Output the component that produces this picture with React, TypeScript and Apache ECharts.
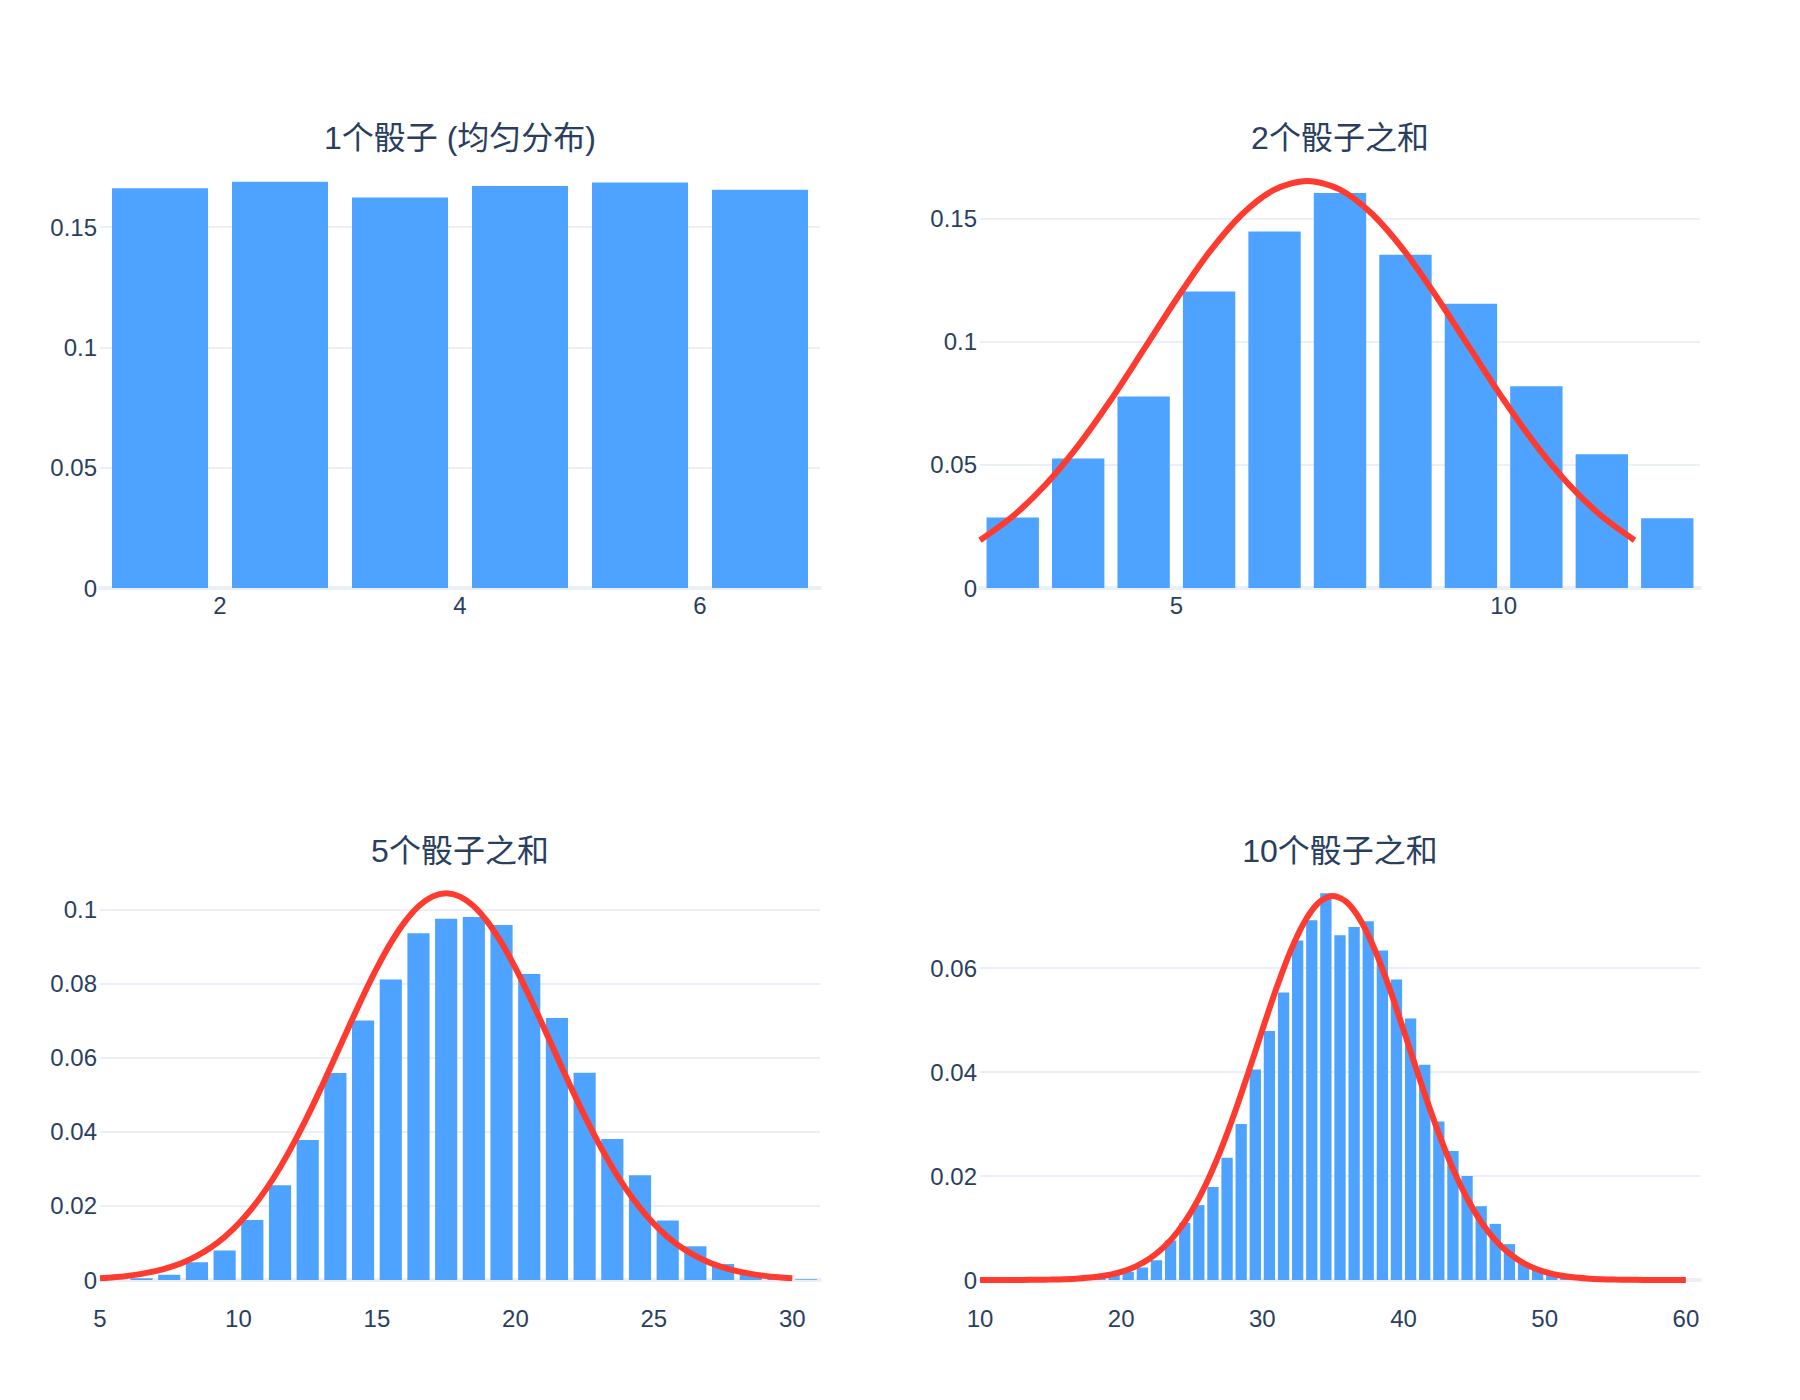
import React, { useEffect, useRef } from 'react';
import * as echarts from 'echarts';

// ---------- data ----------
const titles = ['1个骰子 (均匀分布)', '2个骰子之和', '5个骰子之和', '10个骰子之和'];

// histogram bins are [s, s+1)
const sums1 = [1, 2, 3, 4, 5, 6];
const prob1 = [0.1662, 0.1689, 0.1623, 0.1671, 0.1686, 0.1655];

const sums2 = [2, 3, 4, 5, 6, 7, 8, 9, 10, 11, 12];
const prob2 = [0.0286, 0.0526, 0.0777, 0.1203, 0.1447, 0.1603, 0.1353, 0.1154, 0.0819, 0.0543, 0.0283];
const curve2X = [2, 2.5, 3, 3.5, 4, 4.5, 5, 5.5, 6, 6.5, 7, 7.5, 8, 8.5, 9, 9.5, 10, 10.5, 11, 11.5, 12];
const curve2Y = [0.0194, 0.0291, 0.0419, 0.0578, 0.0764, 0.0967, 0.1172, 0.1362, 0.1516, 0.1617, 0.1652,
  0.1617, 0.1516, 0.1362, 0.1172, 0.0967, 0.0764, 0.0578, 0.0419, 0.0291, 0.0194];

const sums3 = [5, 6, 7, 8, 9, 10, 11, 12, 13, 14, 15, 16, 17, 18, 19, 20, 21, 22, 23, 24, 25, 26, 27, 28, 29, 30];
const prob3 = [0.0001, 0.0005, 0.0014, 0.0048, 0.0080, 0.0162, 0.0256, 0.0378, 0.0559, 0.0701, 0.0812, 0.0937,
  0.0976, 0.0981, 0.0959, 0.0827, 0.0708, 0.0560, 0.0381, 0.0283, 0.0161, 0.0091, 0.0043, 0.0019, 0.0006, 0.0002];
const curve3X = [5, 5.5, 6, 6.5, 7, 7.5, 8, 8.5, 9, 9.5, 10, 10.5, 11, 11.5, 12, 12.5, 13, 13.5, 14, 14.5, 15,
  15.5, 16, 16.5, 17, 17.5, 18, 18.5, 19, 19.5, 20, 20.5, 21, 21.5, 22, 22.5, 23, 23.5, 24, 24.5, 25, 25.5, 26,
  26.5, 27, 27.5, 28, 28.5, 29, 29.5, 30];
const curve3Y = [0.00049, 0.00075, 0.00112, 0.00165, 0.00238, 0.00339, 0.00473, 0.0065, 0.00877, 0.01164,
  0.01519, 0.01947, 0.02454, 0.0304, 0.03703, 0.04433, 0.05218, 0.06036, 0.06864, 0.07674, 0.08432, 0.09108,
  0.09671, 0.10095, 0.10358, 0.10447, 0.10358, 0.10095, 0.09671, 0.09108, 0.08432, 0.07674, 0.06864, 0.06036,
  0.05218, 0.04433, 0.03703, 0.0304, 0.02454, 0.01947, 0.01519, 0.01164, 0.00877, 0.0065, 0.00473, 0.00339,
  0.00238, 0.00165, 0.00112, 0.00075, 0.00049];

const sums4 = [10, 11, 12, 13, 14, 15, 16, 17, 18, 19, 20, 21, 22, 23, 24, 25, 26, 27, 28, 29, 30, 31, 32, 33,
  34, 35, 36, 37, 38, 39, 40, 41, 42, 43, 44, 45, 46, 47, 48, 49, 50, 51, 52, 53, 54, 55, 56, 57, 58, 59, 60];
const prob4 = [0, 0, 0, 0, 0, 0.0001, 0.0001, 0.0002, 0.0005, 0.001, 0.0016, 0.0024, 0.0038, 0.0076, 0.011,
  0.0144, 0.0179, 0.0235, 0.03, 0.0405, 0.0479, 0.0553, 0.0653, 0.0692, 0.0744, 0.0663, 0.0679, 0.069, 0.0634,
  0.0578, 0.0503, 0.0414, 0.0305, 0.0248, 0.02, 0.0142, 0.0108, 0.0069, 0.0033, 0.0019, 0.001, 0.0005, 0.0002,
  0.0001, 0.0001, 0, 0, 0, 0, 0, 0];
const curve4X = [10, 11, 12, 13, 14, 15, 16, 17, 18, 19, 20, 21, 22, 23, 24, 25, 26, 27, 28, 29, 30, 31, 32, 33,
  34, 35, 36, 37, 38, 39, 40, 41, 42, 43, 44, 45, 46, 47, 48, 49, 50, 51, 52, 53, 54, 55, 56, 57, 58, 59, 60];
const curve4Y = [0.000002, 0.000004, 0.00001, 0.00002, 0.00004, 0.00008, 0.00015, 0.00029, 0.00052, 0.00092,
  0.00156, 0.00257, 0.00408, 0.00626, 0.00928, 0.0133, 0.01843, 0.02466, 0.03189, 0.03985, 0.04812, 0.05615,
  0.06331, 0.06897, 0.07261, 0.07387, 0.07261, 0.06897, 0.06331, 0.05615, 0.04812, 0.03985, 0.03189, 0.02466,
  0.01843, 0.0133, 0.00928, 0.00626, 0.00408, 0.00257, 0.00156, 0.00092, 0.00052, 0.00029, 0.00015, 0.00008,
  0.00004, 0.00002, 0.00001, 0.000004, 0.000002];

// ---------- styling ----------
const TEXT = '#2a3f5f';
const GRID = '#EBF0F8';
const BAR = '#4DA3FF';
const RED = '#FF3B30';
const FONT = '"Liberation Sans", Arial, Helvetica, sans-serif';
const TITLE_FONT = '"Liberation Sans", Arial, "Noto Sans CJK SC", sans-serif';

export default function App() {
  const ref = useRef<HTMLDivElement>(null);

  useEffect(() => {
    if (!ref.current) return;
    const chart = echarts.init(ref.current, null, { renderer: 'svg' });

    const panels = [
      { sums: sums1, probs: prob1, cx: null as number[] | null, cy: null as number[] | null,
        xmin: 1, xmax: 7, xint: 1, every: 2, ymax: 0.1775, yint: 0.05 },
      { sums: sums2, probs: prob2, cx: curve2X, cy: curve2Y, xmin: 2, xmax: 13, xint: 1, every: 5, ymax: 0.1733, yint: 0.05 },
      { sums: sums3, probs: prob3, cx: curve3X, cy: curve3Y, xmin: 5, xmax: 31, xint: 5, every: 5, ymax: 0.1097, yint: 0.02 },
      { sums: sums4, probs: prob4, cx: curve4X, cy: curve4Y, xmin: 10, xmax: 61, xint: 10, every: 10, ymax: 0.0781, yint: 0.02 },
    ];
    const lefts = [100, 980, 100, 980];
    const tops = [161, 161, 874, 874];
    const heights = [427, 427, 406, 406];
    const labelMargins = [5, 5, 26, 26];
    const titleY = [138, 138, 851, 851];
    const W = 720;

    const grid: any[] = [];
    const xAxis: any[] = [];
    const yAxis: any[] = [];
    const series: any[] = [];
    const graphic: any[] = [];

    panels.forEach((p, i) => {
      grid.push({ left: lefts[i], top: tops[i], width: W, height: heights[i], containLabel: false });
      xAxis.push({
        type: 'value', gridIndex: i, min: p.xmin, max: p.xmax, interval: p.xint,
        axisLine: { show: true, lineStyle: { color: GRID, width: 4 } },
        axisTick: { show: false },
        splitLine: { show: false },
        axisLabel: {
          color: TEXT, fontSize: 24, fontFamily: FONT, margin: labelMargins[i],
          formatter: (v: number) => (Math.round(v) % p.every === 0 && v < p.xmax ? String(v) : ''),
        },
      });
      yAxis.push({
        type: 'value', gridIndex: i, min: 0, max: p.ymax, interval: p.yint,
        axisLine: { show: false }, axisTick: { show: false },
        splitLine: { show: true, showMaxLine: false, lineStyle: { color: GRID, width: 2 } },
        axisLabel: { color: TEXT, fontSize: 24, fontFamily: FONT, margin: 3, showMaxLabel: false },
      });
      const barW = (0.8 * W) / (p.xmax - p.xmin);
      series.push({
        type: 'bar', xAxisIndex: i, yAxisIndex: i, barWidth: barW, z: 2,
        itemStyle: { color: BAR },
        data: p.sums.map((s, j) => [s + 0.5, p.probs[j]]),
      });
      if (p.cx && p.cy) {
        const cy = p.cy;
        series.push({
          type: 'line', xAxisIndex: i, yAxisIndex: i, z: 3, clip: false, showSymbol: false, symbol: 'none',
          smooth: 0.3,
          lineStyle: { color: RED, width: 6 },
          data: p.cx.map((x, j) => [x, cy[j]]),
        });
      }
      graphic.push({
        type: 'text', x: lefts[i] + W / 2, y: titleY[i],
        style: {
          text: titles[i], fill: TEXT, fontSize: 32, fontFamily: TITLE_FONT,
          textAlign: 'center', textVerticalAlign: 'middle',
        },
      });
    });

    chart.setOption({
      animation: false,
      backgroundColor: '#ffffff',
      grid, xAxis, yAxis, series, graphic,
    });
    return () => chart.dispose();
  }, []);

  return (
    <div
      ref={ref}
      style={{ position: 'absolute', left: 0, top: 0, width: 1800, height: 1400, background: '#fff' }}
    />
  );
}
